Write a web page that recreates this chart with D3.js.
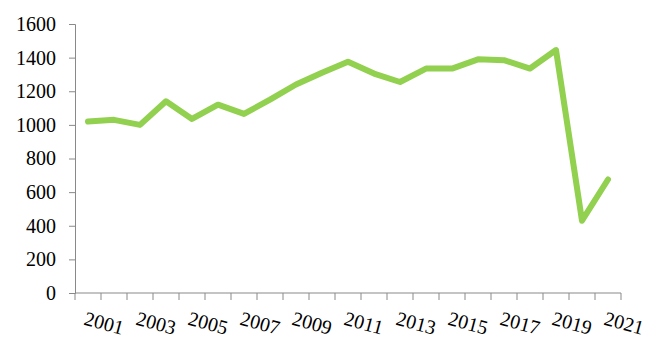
<!DOCTYPE html>
<html>
<head>
<meta charset="utf-8">
<script src="https://cdn.jsdelivr.net/npm/d3@7"></script>
<style>
  body { margin: 0; background: #fff; }
  .axis text { font-family: "Liberation Serif", serif; font-size: 20px; fill: #000; }
</style>
</head>
<body>
<div class="chart"></div>
<script>
// categories and values
const years = ["2001","2002","2003","2004","2005","2006","2007","2008","2009","2010","2011",
  "2012","2013","2014","2015","2016","2017","2018","2019","2020","2021"];
const values = [1020, 1030, 1000, 1140, 1035, 1120, 1065, 1150, 1240, 1310, 1375,
  1305, 1255, 1335, 1335, 1390, 1385, 1335, 1445, 430, 675];
const yTicks = [0, 200, 400, 600, 800, 1000, 1200, 1400, 1600];

/* margins and dimensions */
const margin = {top: 24, right: 46, bottom: 67, left: 75};
const width = 667 - margin.left - margin.right;
const height = 360 - margin.top - margin.bottom;

const svg = d3.select(".chart").append("svg")
  .attr("width", 667)
  .attr("height", 360)
  .append("g")
    .attr("transform", `translate(${margin.left},${margin.top})`);

/* scales */
const xScale = d3.scaleBand()
  .domain(years)
  .range([0, width]);

const yScale = d3.scaleLinear()
  .domain([0, 1600])
  .range([height, 0]);

/* y axis */
const yAxis = svg.append("g")
  .attr("class", "axis yAxis")
  .call(d3.axisLeft(yScale).tickValues(yTicks).tickFormat(d3.format("d")).tickSize(6).tickPadding(13));
yAxis.selectAll("path, line").attr("stroke", "#898989");

/* x axis: ticks on band edges, labels on every other year */
const xAxis = svg.append("g")
  .attr("class", "axis xAxis")
  .attr("transform", `translate(0,${height})`);

xAxis.append("line")
  .attr("x1", 0).attr("x2", width)
  .attr("stroke", "#898989");

const edges = years.map(d => xScale(d)).concat([width]);
xAxis.selectAll(".tick")
  .data(edges)
  .join("line")
    .attr("class", "tick")
    .attr("x1", d => d).attr("x2", d => d)
    .attr("y1", 0).attr("y2", 7)
    .attr("stroke", "#898989");

xAxis.selectAll(".lbl")
  .data(years.filter((d, i) => i % 2 === 0))
  .join("text")
    .attr("class", "lbl")
    .attr("transform", d => `translate(${xScale(d) + xScale.bandwidth() / 2 - 1},${17}) rotate(15)`)
    .attr("dy", "0.75em")
    .attr("text-anchor", "start")
    .text(d => d);

/* line */
const line = d3.line()
  .x((d, i) => xScale(years[i]) + xScale.bandwidth() / 2)
  .y(d => yScale(d));

svg.append("path")
  .datum(values)
  .attr("d", line)
  .attr("fill", "none")
  .attr("stroke", "#92D050")
  .attr("stroke-width", 6)
  .attr("stroke-linejoin", "round")
  .attr("stroke-linecap", "round");
</script>
</body>
</html>
